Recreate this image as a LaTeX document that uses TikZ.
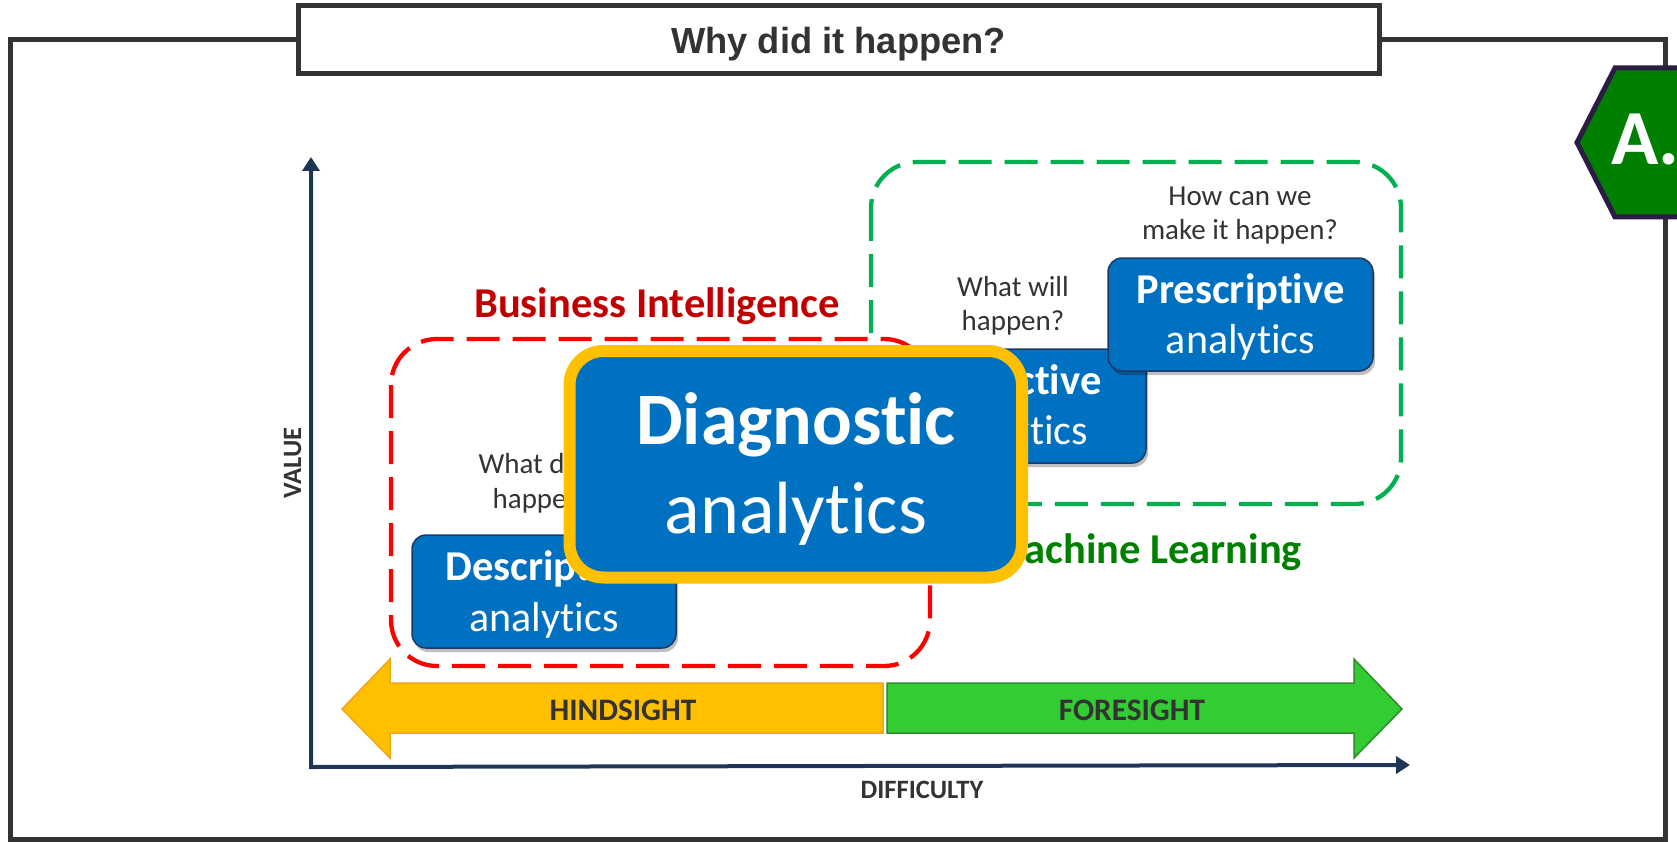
\documentclass[tikz,border=0pt]{standalone}
\usepackage{fontspec}
\setmainfont{Carlito}[Ligatures=NoCommon]
\newfontfamily\titlefont{Liberation Sans}
\usetikzlibrary{arrows.meta,shadows}
\definecolor{framegray}{HTML}{333333}
\definecolor{textgray}{HTML}{333333}
\definecolor{axisnavy}{HTML}{1F3556}
\definecolor{bired}{HTML}{C00000}
\definecolor{mlgreen}{HTML}{008000}
\definecolor{dashred}{HTML}{FF0000}
\definecolor{dashgreen}{HTML}{00B050}
\definecolor{boxblue}{HTML}{0070C0}
\definecolor{boxedge}{HTML}{1F3864}
\definecolor{gold}{HTML}{FFC000}
\definecolor{goldedge}{HTML}{F2A51A}
\definecolor{foregreen}{HTML}{33CC33}
\definecolor{foreedge}{HTML}{2E8B2E}
\definecolor{hexgreen}{HTML}{007F00}
\definecolor{hexedge}{HTML}{2B1B45}
\newcommand\fsz[1]{\fontsize{#1}{#1}\selectfont}
\tikzset{
  frameline/.style={draw=framegray, line width=5pt},
  titlebox/.style={draw=framegray, line width=5pt, fill=white, inner sep=0pt,
    minimum width=1081pt, minimum height=67.7pt},
  txt/.style={inner sep=0pt, outer sep=0pt},
  titletext/.style={txt, text=textgray, font=\titlefont\bfseries\fsz{36.3}},
  hexshape/.style={fill=hexgreen, draw=hexedge, line width=5pt, line join=miter},
  hexlabel/.style={txt, text=white, font=\bfseries\fsz{78}},
  axisline/.style={draw=axisnavy, line width=4pt, line join=miter,
    {Triangle[width=17pt,length=14pt]}-{Triangle[width=17pt,length=14pt]}},
  axislabel/.style={txt, text=textgray, font=\bfseries\fsz{26.5}},
  hindarrow/.style={fill=gold, draw=goldedge, line width=1.5pt, line join=miter},
  forearrow/.style={fill=foregreen, draw=foreedge, line width=1.5pt, line join=miter},
  arrowlabel/.style={txt, text=textgray, font=\bfseries\fsz{31.3}},
  redbox/.style={draw=dashred, line width=4.3pt, rounded corners=46pt, dash pattern=on 33pt off 13pt},
  greenbox/.style={draw=dashgreen, line width=4.3pt, rounded corners=46pt, dash pattern=on 33pt off 13pt},
  bilabel/.style={txt, text=bired, font=\bfseries\fsz{42.5}},
  mllabel/.style={txt, text=mlgreen, font=\bfseries\fsz{42.5}},
  question/.style={txt, text=textgray, font=\fsz{29}},
  bluebox/.style={fill=boxblue, draw=boxedge, line width=1.5pt, rounded corners=14pt,
    inner sep=0pt, drop shadow={shadow xshift=2pt, shadow yshift=-4pt, fill=black, opacity=0.25}},
  boxtitle/.style={txt, text=white, font=\bfseries\fsz{42.5}},
  boxsub/.style={txt, text=white, font=\fsz{42}},
  diagbox/.style={fill=boxblue, draw=gold, line width=12pt, rounded corners=34pt,
    inner sep=0pt, minimum width=452.5pt, minimum height=226.5pt,
    drop shadow={shadow xshift=3pt, shadow yshift=-5pt, fill=black, opacity=0.25}},
  diagtitle/.style={txt, text=white, font=\bfseries\fsz{74}},
  diagsub/.style={txt, text=white, font=\fsz{74}},
}
\begin{document}
\begin{tikzpicture}[x=1pt,y=-1pt]
\useasboundingbox (0,0) rectangle (1677,842);
\begin{scope}
\clip (0,0) rectangle (1677,842);
% outer frame and title
\draw[frameline] (10.5,40) rectangle (1665,839.5);
\node[titlebox] (title) at (838.5,39.7) {};
\node[titletext, anchor=base] (titlelbl) at (838.5,54) {Why did it happen?};
% hexagon badge
\draw[hexshape] (1577,142.5) -- (1615,68) -- (1740,68) -- (1778,142.5) -- (1740,217) -- (1615,217) -- cycle;
\node[hexlabel, anchor=base west] (hexlbl) at (1611,165) {A.};
% axes
\coordinate (ytop) at (311,157);
\coordinate (origin) at (311,767);
\coordinate (xend) at (1410,765);
\draw[axisline] (ytop) -- (origin) -- (xend);
\node[axislabel, rotate=90, anchor=base] (vallbl) at (301,463) {VALUE};
\node[axislabel, anchor=base] (difflbl) at (922,798) {DIFFICULTY};
% hindsight / foresight arrows
\draw[hindarrow] (342,709) -- (390,659) -- (390,683) -- (883,683) -- (883,733) -- (390,733) -- (390,758) -- cycle;
\draw[forearrow] (887,683) -- (1354,683) -- (1354,659) -- (1402,709) -- (1354,758) -- (1354,733) -- (887,733) -- cycle;
\node[arrowlabel, anchor=base] (hindlbl) at (623,720) {HINDSIGHT};
\node[arrowlabel, anchor=base] (forelbl) at (1132,720) {FORESIGHT};
% dashed groups
\draw[greenbox] (871,162) rectangle (1401,504);
\draw[redbox] (391,339) rectangle (930,666);
\node[bilabel, anchor=base] (bilbl) at (657,317) {Business Intelligence};
\node[mllabel, anchor=base east] (mllbl) at (1302,563) {Machine Learning};
% questions
\node[question, anchor=base] (q1a) at (544,473) {What did it};
\node[question, anchor=base] (q1b) at (544,508) {happen?};
\node[question, anchor=base] (q2a) at (1013,296) {What will};
\node[question, anchor=base] (q2b) at (1013,330) {happen?};
\node[question, anchor=base] (q3a) at (1240,206) {How can we};
\node[question, anchor=base] (q3b) at (1240,240) {make it happen?};
% analytics boxes
\node[bluebox, minimum width=264pt, minimum height=113pt] (desc) at (544,591.5) {};
\node[boxtitle, anchor=base] (desct) at (544,580) {Descriptive};
\node[boxsub, anchor=base] (descs) at (544,631) {analytics};
\node[bluebox, minimum width=265pt, minimum height=114pt] (pred) at (1013.5,406) {};
\node[boxtitle, anchor=base] (predt) at (1013.5,394) {Predictive};
\node[boxsub, anchor=base] (preds) at (1013.5,444) {analytics};
\node[bluebox, minimum width=265pt, minimum height=113pt] (pres) at (1240.5,314.5) {};
\node[boxtitle, anchor=base] (prest) at (1240.5,303) {Prescriptive};
\node[boxsub, anchor=base] (press) at (1240.5,353) {analytics};
% highlighted diagnostic box
\node[diagbox] (diag) at (795.75,464.25) {};
\node[diagtitle, anchor=base] (diagt) at (796,444) {Diagnostic};
\node[diagsub, anchor=base] (diags) at (796,533) {analytics};
\end{scope}
\end{tikzpicture}
\end{document}
